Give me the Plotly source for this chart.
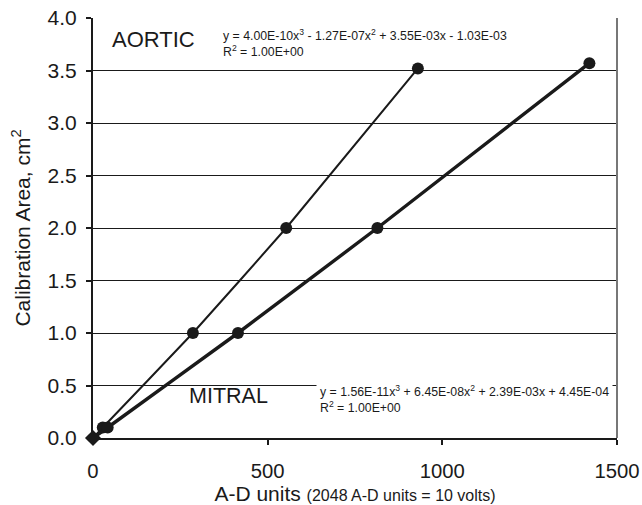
import plotly.graph_objects as go

# Data
aortic_x = [0, 28, 286, 553, 930]
aortic_y = [0.0, 0.1, 1.0, 2.0, 3.52]
mitral_x = [0, 42, 415, 814, 1421]
mitral_y = [0.0, 0.1, 1.0, 2.0, 3.57]

x_ticks = [0, 500, 1000, 1500]
y_ticks = [0.0, 0.5, 1.0, 1.5, 2.0, 2.5, 3.0, 3.5, 4.0]

aortic_eq = "y = 4.00E-10x<sup>3</sup> - 1.27E-07x<sup>2</sup> + 3.55E-03x - 1.03E-03<br>R<sup>2</sup> = 1.00E+00"
mitral_eq = "y = 1.56E-11x<sup>3</sup> + 6.45E-08x<sup>2</sup> + 2.39E-03x + 4.45E-04<br>R<sup>2</sup> = 1.00E+00"

FONT = "Liberation Sans, Arial, sans-serif"
INK = "#1a1a1a"

fig = go.Figure()
fig.add_trace(go.Scatter(
    x=aortic_x, y=aortic_y, mode="lines+markers", name="AORTIC",
    line=dict(color=INK, width=2, shape="spline", smoothing=0.3),
    marker=dict(color=INK, size=12, symbol=["diamond"] + ["circle"] * (len(aortic_x) - 1)),
    cliponaxis=False,
))
fig.add_trace(go.Scatter(
    x=mitral_x, y=mitral_y, mode="lines+markers", name="MITRAL",
    line=dict(color=INK, width=3.4, shape="spline", smoothing=0.3),
    marker=dict(color=INK, size=12, symbol=["diamond"] + ["circle"] * (len(mitral_x) - 1)),
    cliponaxis=False,
))

fig.update_layout(
    width=642, height=505,
    margin=dict(l=93, r=25, t=18, b=67),
    paper_bgcolor="white", plot_bgcolor="white",
    showlegend=False,
    font=dict(family=FONT, color=INK, size=21),
    xaxis=dict(
        range=[0, 1500], tickvals=x_ticks, ticktext=[str(v) for v in x_ticks],
        showgrid=False, zeroline=False, automargin=False,
        showline=True, linecolor=INK, linewidth=2,
        ticks="outside", ticklen=5, tickwidth=2, tickcolor=INK,
        tickfont=dict(size=20.3), ticklabelstandoff=9, ticklabeloverflow="allow",
        title=dict(text="A-D units <span style='font-size:16px'>(2048 A-D units = 10 volts)</span>",
                   font=dict(size=21), standoff=2),
    ),
    yaxis=dict(
        range=[0, 4], tickvals=y_ticks, ticktext=[f"{v:.1f}" for v in y_ticks],
        showgrid=True, gridcolor=INK, gridwidth=1.2, zeroline=False, automargin=False,
        showline=True, linecolor=INK, linewidth=2,
        ticks="outside", ticklen=5, tickwidth=1.5, tickcolor=INK,
        tickfont=dict(size=21), ticklabelstandoff=5, ticklabeloverflow="allow",
        title=dict(text="Calibration Area, cm<sup>2</sup>", font=dict(size=21), standoff=11),
    ),
    shapes=[
        dict(type="line", xref="x domain", yref="y domain", x0=1, x1=1, y0=0, y1=1,
             line=dict(color="#777777", width=2)),
    ],
    annotations=[
        dict(text="AORTIC", x=0.033, y=0.949, xref="x domain", yref="y domain",
             xanchor="left", yanchor="middle", showarrow=False, font=dict(size=22)),
        dict(text="MITRAL", x=0.179, y=0.101, xref="x domain", yref="y domain",
             xanchor="left", yanchor="middle", showarrow=False, font=dict(size=21.5)),
        dict(text=aortic_eq, x=0.244, y=0.94, xref="x domain", yref="y domain",
             xanchor="left", yanchor="middle", align="left", showarrow=False,
             font=dict(size=12.3), bgcolor="white", borderpad=1),
        dict(text=mitral_eq, x=0.425, y=0.093, xref="x domain", yref="y domain",
             xanchor="left", yanchor="middle", align="left", showarrow=False,
             font=dict(size=12.3), bgcolor="white", borderpad=3),
    ],
)

# remove the browser's default page margin so the 642x505 figure fills the window exactly
fig.write_html(
    "out.html",
    config={"displayModeBar": False},
    post_script="document.body.style.margin='0';document.body.style.overflow='hidden';",
)
